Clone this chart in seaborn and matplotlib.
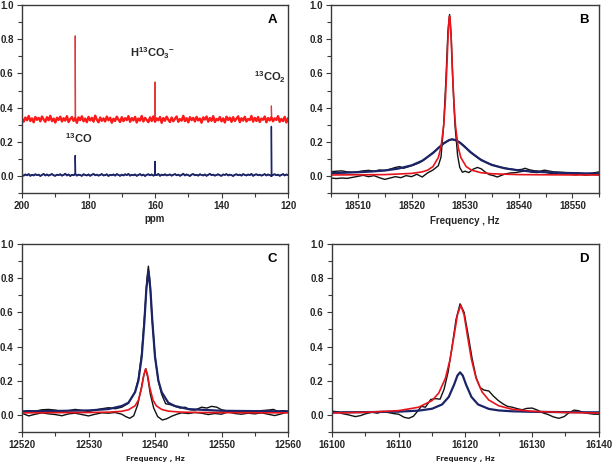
import numpy as np
import pandas as pd
import matplotlib
matplotlib.use("Agg")
import matplotlib.pyplot as plt
from matplotlib.ticker import MultipleLocator, FormatStrFormatter
import seaborn as sns

# ---------------- DATA ----------------
# Panel A: 13C spectrum (ppm), baseline samples + spike peaks
a_ppm_start, a_ppm_end = 200.0, 120.0
a_red_base = [
    .335, .318, .342, .326, .351, .322, .337, .314, .345, .329,
    .340, .320, .348, .331, .317, .344, .326, .352, .321, .336,
    .313, .341, .328, .347, .319, .338, .324, .350, .316, .333,
    .345, .322, .339, .311, .343, .327, .349, .320, .336, .315,
    .346, .325, .340, .318, .353, .329, .314, .342, .323, .337,
    .319, .348, .326, .341, .312, .335, .322, .347, .330, .316,
    .344, .321, .338, .327, .350, .317, .339, .325, .346, .313,
    .336, .324, .351, .319, .340, .328, .315, .343, .322, .349,
    .318, .337, .326, .345, .311, .339, .323, .347, .329, .316,
    .342, .320, .335, .348, .317, .333, .324, .352, .321, .338,
    .314, .344, .327, .340, .319, .346, .325, .336, .312, .343,
    .330, .348, .318, .339, .323, .350, .316, .334, .326, .345,
    .320, .337, .313, .347, .328, .341, .317, .344, .322, .335,
    .349, .315, .338, .324, .346, .319, .333, .327, .351, .318,
    .340, .322, .345, .316, .336, .329, .348, .314, .339, .325,
    .343, .320, .337, .328, .350, .317, .334, .321, .346, .313,
    .338]
a_blue_base = [
    .006, .002, .009, .004, .011, .001, .007, .003, .010, .005,
    .008, .000, .006, .012, .003, .009, .002, .007, .011, .004,
    .001, .008, .005, .010, .002, .006, .013, .003, .009, .000,
    .007, .004, .011, .002, .008, .005, .001, .010, .006, .003,
    .009, .001, .007, .012, .004, .008, .002, .006, .011, .003,
    .005, .010, .000, .007, .004, .009, .002, .011, .006, .001,
    .008, .003, .010, .005, .012, .002, .007, .004, .009, .001,
    .006, .011, .003, .008, .000, .007, .010, .004, .009, .002,
    .007, .005, .012, .001, .008, .004, .010, .003, .006, .009,
    .002, .007, .011, .004, .008, .001, .006, .013, .003, .009,
    .005, .000, .008, .011, .004, .007, .002, .010, .006, .003,
    .009, .001, .007, .012, .005, .008, .002, .006, .010, .004,
    .001, .009, .006, .011, .003, .008, .005, .000, .007, .010,
    .004, .008, .002, .011, .006, .003, .009, .005, .012, .001,
    .007, .010, .004, .008, .002, .006, .011, .003, .009, .005,
    .000, .007, .010, .004, .008, .001, .006, .011, .003, .009,
    .005]
a_peak_ppm = [184.0, 160.0, 125.0]
a_red_peak = [0.82, 0.55, 0.41]
a_blue_peak = [0.12, 0.085, 0.29]

# Panel B (Hz)
b_blue_x = [18505, 18507.5, 18510, 18512.5, 18515, 18517.5, 18520, 18522, 18524, 18525,
            18526, 18527, 18527.6, 18528.2, 18529, 18530, 18531, 18533, 18535, 18537.5,
            18540, 18542.5, 18545, 18547.5, 18550, 18552.5, 18555]
b_blue_y = [.017, .019, .022, .026, .032, .043, .062, .089, .134, .163,
            .191, .210, .214, .210, .196, .169, .139, .093, .064, .044,
            .033, .026, .022, .019, .017, .015, .014]
b_red_x = [18505, 18510, 18515, 18520, 18522, 18523, 18524, 18525, 18525.5, 18526,
           18526.3, 18526.6, 18526.8, 18527, 18527.1, 18527.2, 18527.4, 18527.6, 18527.9, 18528.2,
           18528.7, 18529.2, 18530.2, 18531.2, 18533, 18535, 18540, 18545, 18550, 18555]
b_red_y = [.006, .007, .008, .015, .024, .034, .055, .108, .169, .295,
           .435, .643, .804, .919, .935, .919, .804, .643, .435, .295,
           .169, .108, .055, .034, .019, .013, .008, .007, .006, .006]
b_blk1_x = [18505, 18506, 18507, 18508, 18509, 18510, 18511, 18512, 18513, 18514,
            18515, 18516, 18517, 18517.8, 18518.5, 18519.5, 18520.5, 18521.5, 18522.5, 18523.5,
            18524.5, 18525.5, 18526.5, 18527.5, 18528.5, 18529.5, 18530.5, 18531.5, 18532.5, 18533.5,
            18534.5, 18535.5, 18536.5, 18537.5, 18538.5, 18539.5, 18540.5, 18541.2, 18542, 18543,
            18544, 18544.8, 18545.5, 18546.5, 18547.5, 18548.5, 18549.5, 18550.5, 18551.5, 18552.5,
            18553.5, 18554.3, 18555]
b_blk1_y = [.025, .028, .030, .024, .022, .025, .030, .033, .028, .035,
            .032, .040, .050, .055, .045, .055, .065, .078, .098, .125,
            .150, .178, .200, .216, .206, .185, .155, .128, .105, .087,
            .072, .062, .052, .046, .040, .036, .038, .045, .036, .030,
            .028, .034, .030, .024, .022, .020, .016, .018, .015, .013,
            .016, .020, .024]
b_blk2_x = [18505, 18506, 18507, 18508, 18509, 18510, 18511, 18512, 18513, 18514,
            18515, 18516, 18517, 18518, 18519, 18520, 18521, 18522, 18523, 18524,
            18525, 18525.5, 18526, 18526.4, 18526.8, 18527.1, 18527.4, 18527.7, 18528.1, 18528.6,
            18529, 18529.5, 18530, 18530.7, 18531.5, 18532.3, 18533, 18533.8, 18534.5, 18535.3,
            18536, 18536.8, 18537.5, 18538.5, 18539.5, 18540.5, 18541.5, 18542.5, 18543.5, 18544.5,
            18545.5, 18546.5, 18547.5, 18548.5, 18549.5, 18550.5, 18551.5, 18552.5, 18553.5, 18555]
b_blk2_y = [-.012, -.015, -.012, -.014, -.008, -.002, .004, -.004, .002, -.010,
            -.020, -.012, -.004, -.010, .002, -.004, .010, -.006, .018, .035,
            .060, .110, .300, .550, .850, .945, .820, .560, .300, .120,
            .050, .022, .028, .020, .040, .050, .042, .022, .008, .002,
            -.006, .004, .012, .018, .020, .026, .030, .022, .020, .026,
            .018, .012, .018, .010, .012, .006, .010, .004, .008, .006]

# Panel C (Hz)
c_blue_x = [12520, 12525, 12530, 12533, 12535, 12536, 12537, 12537.5, 12538, 12538.4,
            12538.7, 12539, 12539.3, 12539.6, 12540, 12540.5, 12541, 12542, 12543, 12545,
            12550, 12555, 12560]
c_blue_y = [.021, .023, .026, .034, .052, .071, .133, .201, .340, .545,
            .739, .840, .739, .545, .340, .201, .133, .071, .052, .034,
            .024, .022, .021]
c_red_x = [12520, 12530, 12533, 12535, 12536, 12537, 12537.5, 12538, 12538.3, 12538.6,
           12538.9, 12539.2, 12539.7, 12540.2, 12541, 12542, 12544, 12547, 12550, 12560]
c_red_y = [.012, .014, .016, .021, .030, .053, .086, .161, .230, .270,
           .230, .161, .086, .053, .032, .022, .016, .014, .013, .012]
c_blk1_x = [12520, 12521, 12522, 12523, 12524, 12525, 12526, 12527, 12528, 12529,
            12530, 12531, 12532, 12533, 12534, 12535, 12536, 12537, 12537.5, 12538,
            12538.5, 12538.8, 12539, 12539.2, 12539.5, 12540, 12540.5, 12541, 12541.6, 12542.3,
            12543, 12543.8, 12544.5, 12545.3, 12546, 12547, 12547.8, 12548.5, 12549.3, 12550,
            12551, 12552, 12553, 12554, 12555, 12556, 12557, 12557.8, 12558.5, 12559.3,
            12560]
c_blk1_y = [.015, .025, .022, .030, .032, .028, .020, .025, .032, .026,
            .020, .028, .036, .042, .036, .045, .068, .135, .210, .360,
            .620, .800, .870, .800, .600, .340, .200, .120, .065, .060,
            .050, .040, .045, .030, .028, .045, .040, .050, .045, .030,
            .022, .018, .020, .015, .020, .025, .028, .032, .020, .025,
            .020]
c_blk2_x = [12520, 12521, 12522, 12523, 12524, 12525, 12526, 12527, 12528, 12529,
            12530, 12531, 12532, 12533, 12534, 12535, 12535.6, 12536.2, 12536.8, 12537.4,
            12537.9, 12538.3, 12538.6, 12538.9, 12539.3, 12539.8, 12540.4, 12541.1, 12541.8, 12542.5,
            12543.3, 12544, 12545, 12546, 12547, 12548, 12549, 12550, 12551, 12552,
            12553, 12554, 12555, 12556, 12557, 12558, 12559, 12560]
c_blk2_y = [.010, -.006, .004, .012, .006, .002, -.005, .006, .010, .002,
            -.006, .004, .012, .010, .014, .004, -.010, -.020, -.005, .060,
            .150, .230, .270, .220, .120, .040, -.010, -.030, -.022, -.008,
            .004, .012, .008, .014, .010, .002, .008, .004, .018, .008,
            .004, .010, .006, .012, .004, -.004, .006, .018]

# Panel D (Hz)
d_red_x = [16100, 16105, 16110, 16113, 16115, 16116, 16117, 16117.7, 16118.3, 16118.8,
           16119.3, 16119.8, 16120.3, 16120.9, 16121.6, 16122.5, 16123.5, 16125, 16127, 16130,
           16135, 16140]
d_red_y = [.011, .015, .025, .045, .084, .128, .214, .325, .464, .585,
           .642, .585, .464, .325, .214, .134, .087, .053, .033, .021,
           .014, .011]
d_blue_x = [16100, 16105, 16110, 16113, 16115, 16116.5, 16117.5, 16118.3, 16118.8, 16119.2,
            16119.6, 16120.1, 16120.9, 16121.9, 16123.5, 16125, 16127, 16130, 16135, 16140]
d_blue_y = [.015, .016, .019, .025, .036, .061, .105, .177, .230, .249,
            .230, .177, .105, .061, .035, .026, .021, .018, .016, .015]
d_blk_x = [16100, 16100.8, 16101.5, 16102.5, 16103.5, 16104.3, 16105, 16106, 16106.8, 16107.6,
           16108.4, 16109.2, 16110, 16110.8, 16111.5, 16112.2, 16112.8, 16113.4, 16114, 16114.8,
           16115.5, 16116.2, 16116.8, 16117.4, 16118, 16118.6, 16119.2, 16119.8, 16120.4, 16121,
           16121.6, 16122.2, 16122.8, 16123.5, 16124.2, 16124.9, 16125.6, 16126.3, 16127, 16127.8,
           16128.5, 16129.2, 16130, 16130.8, 16131.6, 16132.4, 16133.2, 16134, 16134.8, 16135.5,
           16136.3, 16137, 16137.8, 16138.5, 16139.3, 16140]
d_blk_y = [.022, .018, .008, .000, -.010, -.004, .006, .016, .010, .020,
           .014, .008, .004, -.014, -.020, -.008, .020, .050, .045, .090,
           .095, .092, .150, .250, .400, .560, .650, .600, .470, .330,
           .220, .160, .145, .140, .110, .085, .065, .050, .045, .036,
           .030, .038, .040, .028, .012, .002, -.012, -.020, -.010, .012,
           .028, .024, .012, .008, .004, .004]

# ---------------- STYLE ----------------
sns.set_theme(style="white")
plt.rcParams['font.family'] = ['Liberation Sans', 'DejaVu Sans']
plt.rcParams['font.weight'] = 'bold'
plt.rcParams['mathtext.fontset'] = 'custom'
plt.rcParams['mathtext.rm'] = 'Liberation Sans:bold'
plt.rcParams['mathtext.bf'] = 'Liberation Sans:bold'
plt.rcParams['mathtext.default'] = 'rm'

RED = '#e8141c'
RED_A = '#ff1a1a'
RED_SPIKE = '#e03a3a'
NAVY = '#1c2468'
BLACK = '#111111'
SPINE = '#3a3a3a'

fig = plt.figure(figsize=(6.12, 4.63), dpi=100)
axA = fig.add_axes([0.036, 0.583, 0.4346, 0.406])
axB = fig.add_axes([0.541, 0.583, 0.438, 0.406])
axC = fig.add_axes([0.036, 0.067, 0.4346, 0.406])
axD = fig.add_axes([0.5425, 0.067, 0.436, 0.406])


def line(ax, x, y, color, lw):
    df = pd.DataFrame({'x': x, 'y': y})
    sns.lineplot(data=df, x='x', y='y', ax=ax, color=color, lw=lw,
                 sort=False, estimator=None, legend=False)


a_grid = list(np.linspace(a_ppm_start, a_ppm_end, len(a_red_base)))


def build_spectrum(base, peaks_x, peaks_y):
    pts = list(zip(a_grid, base))
    for px, py in zip(peaks_x, peaks_y):
        i = int(np.argmin(np.abs(np.array(a_grid) - px)))
        b = base[i]
        pts += [(px + 0.1, b), (px, py), (px - 0.1, b)]
    pts.sort(key=lambda p: -p[0])
    return [p[0] for p in pts], [p[1] for p in pts]


# Panel A: thin full traces (with spikes) over thicker noisy baselines
xr, yr = build_spectrum(a_red_base, a_peak_ppm, a_red_peak)
xb, yb = build_spectrum(a_blue_base, a_peak_ppm, a_blue_peak)
line(axA, xr, yr, RED_SPIKE, 0.9)
line(axA, a_grid, a_red_base, RED_A, 1.7)
line(axA, xb, yb, NAVY, 1.0)
line(axA, a_grid, a_blue_base, NAVY, 1.3)

# Panel B
line(axB, b_blk1_x, b_blk1_y, BLACK, 1.0)
line(axB, b_blk2_x, b_blk2_y, BLACK, 1.0)
line(axB, b_blue_x, b_blue_y, NAVY, 1.6)
line(axB, b_red_x, b_red_y, RED, 1.2)

# Panel C
line(axC, c_blk1_x, c_blk1_y, BLACK, 1.0)
line(axC, c_blk2_x, c_blk2_y, BLACK, 1.0)
line(axC, c_blue_x, c_blue_y, NAVY, 1.6)
line(axC, c_red_x, c_red_y, RED, 1.2)

# Panel D
line(axD, d_blk_x, d_blk_y, BLACK, 1.0)
line(axD, d_blue_x, d_blue_y, NAVY, 1.6)
line(axD, d_red_x, d_red_y, RED, 1.2)

TICK_FS = 7
settings = [
    (axA, (200, 120), 20, 10, 'A'),
    (axB, (18505, 18555), 10, 5, 'B'),
    (axC, (12520, 12560), 10, 5, 'C'),
    (axD, (16100, 16140), 10, 5, 'D'),
]
for ax, xl, maj, mnr, letter in settings:
    ax.set_xlim(*xl)
    ax.set_ylim(-0.1, 1.0)
    ax.xaxis.set_major_locator(MultipleLocator(maj))
    ax.xaxis.set_minor_locator(MultipleLocator(mnr))
    ax.yaxis.set_major_locator(MultipleLocator(0.2))
    ax.yaxis.set_minor_locator(MultipleLocator(0.1))
    ax.yaxis.set_major_formatter(FormatStrFormatter('%.1f'))
    ax.xaxis.set_major_formatter(FormatStrFormatter('%d'))
    ax.tick_params(axis='both', which='major', direction='out', length=3.5, width=0.8,
                   color=SPINE, labelsize=TICK_FS, pad=2.5, bottom=True, left=True)
    ax.tick_params(axis='both', which='minor', direction='out', length=3.0, width=0.8,
                   color=SPINE, bottom=True, left=True)
    for lab in ax.get_xticklabels() + ax.get_yticklabels():
        lab.set_fontweight('bold')
    for s in ax.spines.values():
        s.set_visible(True)
        s.set_color(SPINE)
        s.set_linewidth(1.0)
    ax.set_ylabel('')
    ax.set_xlabel('')
    ax.text(0.96, 0.92, letter, transform=ax.transAxes, ha='right', va='center',
            fontsize=9.5, fontweight='bold', color='black')

axA.set_xlabel('ppm', fontsize=7, fontweight='bold', labelpad=2)
axB.set_xlabel('Frequency , Hz', fontsize=7, fontweight='bold', labelpad=3)
for ax in (axC, axD):
    ax.set_xlabel('Frequency , Hz', fontsize=5, fontweight='bold', labelpad=4,
                  family=['DejaVu Sans'])

# Panel A annotations
axA.text(160.8, 0.72, r'H$^{13}$CO$_{3}$$^{-}$', ha='center', va='center',
         fontsize=8, fontweight='bold')
axA.text(125.5, 0.58, r'$^{13}$CO$_{2}$', ha='center', va='center',
         fontsize=8, fontweight='bold')
axA.text(183.0, 0.22, r'$^{13}$CO', ha='center', va='center',
         fontsize=8, fontweight='bold')

fig.savefig('out.png', dpi=100)
